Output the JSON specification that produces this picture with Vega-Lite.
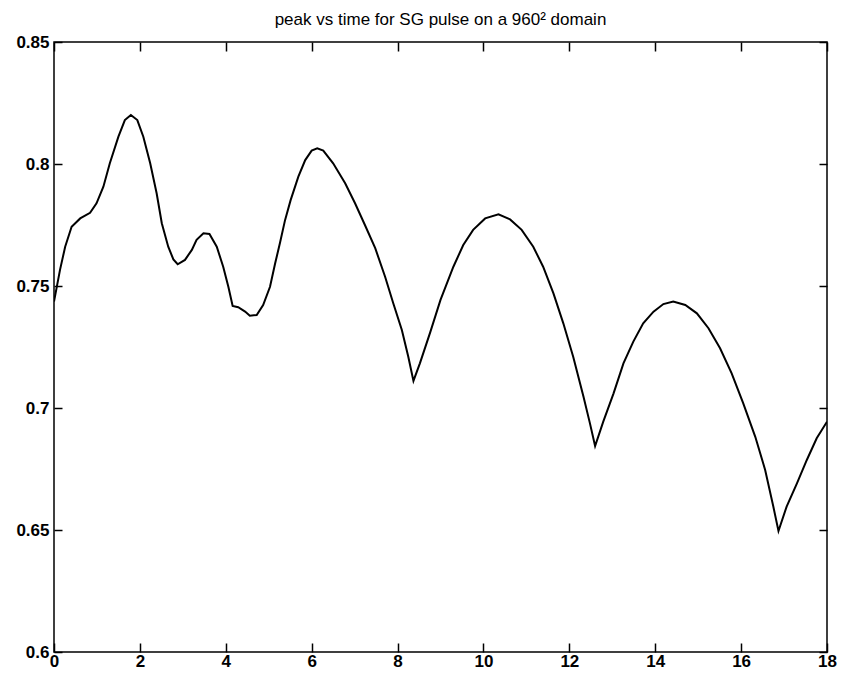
{
  "$schema": "https://vega.github.io/schema/vega-lite/v6.json",
  "width": 773,
  "height": 610,
  "autosize": {"type": "none"},
  "padding": {"left": 54, "top": 42, "right": 16, "bottom": 27},
  "background": "white",
  "title": {
    "text": "peak vs time for SG pulse on a 960² domain",
    "font": "Liberation Sans",
    "fontSize": 17,
    "fontWeight": "normal",
    "color": "black",
    "anchor": "middle",
    "offset": 4
  },
  "config": {
    "view": {"stroke": "black", "strokeWidth": 1.5},
    "axis": {
      "grid": false,
      "domain": false,
      "tickColor": "black",
      "tickWidth": 1.5,
      "labelFont": "Liberation Sans",
      "labelFontSize": 17,
      "labelFontWeight": "bold",
      "labelColor": "black",
      "title": null
    }
  },
  "data": {
    "values": [
      {"t": 0.0, "peak": 0.7436},
      {"t": 0.14, "peak": 0.7566},
      {"t": 0.26, "peak": 0.7661},
      {"t": 0.41, "peak": 0.7743},
      {"t": 0.61, "peak": 0.7777},
      {"t": 0.84, "peak": 0.78},
      {"t": 0.99, "peak": 0.7839},
      {"t": 1.15, "peak": 0.7907},
      {"t": 1.3, "peak": 0.8003},
      {"t": 1.5, "peak": 0.8112},
      {"t": 1.65, "peak": 0.818},
      {"t": 1.79, "peak": 0.8201},
      {"t": 1.94, "peak": 0.818},
      {"t": 2.08, "peak": 0.8112},
      {"t": 2.24, "peak": 0.8003},
      {"t": 2.39, "peak": 0.788},
      {"t": 2.51, "peak": 0.7757},
      {"t": 2.66, "peak": 0.7661},
      {"t": 2.78, "peak": 0.7609},
      {"t": 2.88, "peak": 0.7589},
      {"t": 3.05, "peak": 0.7607},
      {"t": 3.21, "peak": 0.7648},
      {"t": 3.32, "peak": 0.7689},
      {"t": 3.48, "peak": 0.7716},
      {"t": 3.62, "peak": 0.7713},
      {"t": 3.79, "peak": 0.7661},
      {"t": 3.94, "peak": 0.7579},
      {"t": 4.06, "peak": 0.7497},
      {"t": 4.16, "peak": 0.7418},
      {"t": 4.29, "peak": 0.7413},
      {"t": 4.45, "peak": 0.7395},
      {"t": 4.56, "peak": 0.7378},
      {"t": 4.72, "peak": 0.7381},
      {"t": 4.87, "peak": 0.7422},
      {"t": 5.03, "peak": 0.7497},
      {"t": 5.15, "peak": 0.7593},
      {"t": 5.26, "peak": 0.7675},
      {"t": 5.38, "peak": 0.777},
      {"t": 5.51, "peak": 0.7852},
      {"t": 5.69, "peak": 0.7948},
      {"t": 5.85, "peak": 0.8016},
      {"t": 6.0, "peak": 0.8055},
      {"t": 6.13, "peak": 0.8064},
      {"t": 6.27, "peak": 0.8055},
      {"t": 6.5, "peak": 0.8003},
      {"t": 6.78, "peak": 0.7921},
      {"t": 7.01, "peak": 0.7839},
      {"t": 7.24, "peak": 0.775},
      {"t": 7.48, "peak": 0.7655},
      {"t": 7.71, "peak": 0.7538},
      {"t": 7.9, "peak": 0.7429},
      {"t": 8.1, "peak": 0.732},
      {"t": 8.25, "peak": 0.721},
      {"t": 8.37, "peak": 0.7111},
      {"t": 8.52, "peak": 0.7183},
      {"t": 8.76, "peak": 0.731},
      {"t": 9.0, "peak": 0.7443},
      {"t": 9.3, "peak": 0.7579},
      {"t": 9.53, "peak": 0.7668},
      {"t": 9.76, "peak": 0.773},
      {"t": 10.04, "peak": 0.7777},
      {"t": 10.35, "peak": 0.7794},
      {"t": 10.62, "peak": 0.7773},
      {"t": 10.89, "peak": 0.773},
      {"t": 11.16, "peak": 0.7661},
      {"t": 11.39, "peak": 0.7579},
      {"t": 11.63, "peak": 0.747},
      {"t": 11.86, "peak": 0.7347},
      {"t": 12.09, "peak": 0.721},
      {"t": 12.33, "peak": 0.7046},
      {"t": 12.48, "peak": 0.6937},
      {"t": 12.6, "peak": 0.6844},
      {"t": 12.79, "peak": 0.6944},
      {"t": 13.03, "peak": 0.706},
      {"t": 13.26, "peak": 0.7183},
      {"t": 13.49, "peak": 0.7272},
      {"t": 13.72, "peak": 0.7347},
      {"t": 13.96, "peak": 0.7395},
      {"t": 14.19, "peak": 0.7426},
      {"t": 14.42, "peak": 0.7436},
      {"t": 14.7, "peak": 0.7422},
      {"t": 14.97, "peak": 0.7388},
      {"t": 15.24, "peak": 0.7327},
      {"t": 15.51, "peak": 0.7245},
      {"t": 15.78, "peak": 0.7142},
      {"t": 16.05, "peak": 0.7019},
      {"t": 16.33, "peak": 0.6882},
      {"t": 16.56, "peak": 0.6746},
      {"t": 16.75, "peak": 0.6596},
      {"t": 16.87, "peak": 0.6496},
      {"t": 17.06, "peak": 0.6596},
      {"t": 17.3, "peak": 0.6691},
      {"t": 17.53, "peak": 0.6787},
      {"t": 17.76, "peak": 0.6876},
      {"t": 18.0, "peak": 0.6944}
    ]
  },
  "layer": [
    {
      "mark": {"type": "line", "color": "black", "strokeWidth": 2, "clip": true},
      "encoding": {
        "x": {
          "field": "t", "type": "quantitative",
          "scale": {"domain": [0, 18], "nice": false, "zero": false},
          "axis": {"orient": "bottom", "offset": -9, "values": [0, 2, 4, 6, 8, 10, 12, 14, 16, 18], "tickSize": 9, "labelPadding": 1, "labelFlush": false, "labelOverlap": false}
        },
        "y": {
          "field": "peak", "type": "quantitative",
          "scale": {"domain": [0.6, 0.85], "nice": false, "zero": false},
          "axis": {"orient": "left", "offset": -8, "values": [0.6, 0.65, 0.7, 0.75, 0.8, 0.85], "format": ".2~f", "tickSize": 8, "labelPadding": 5, "labelFlush": false, "labelOverlap": false}
        }
      }
    },
    {
      "mark": {"type": "line", "strokeOpacity": 0},
      "encoding": {
        "x": {
          "field": "t", "type": "quantitative",
          "axis": {"orient": "top", "offset": -9, "values": [0, 2, 4, 6, 8, 10, 12, 14, 16, 18], "tickSize": 9, "labels": false}
        },
        "y": {
          "field": "peak", "type": "quantitative",
          "axis": {"orient": "right", "offset": -8, "values": [0.6, 0.65, 0.7, 0.75, 0.8, 0.85], "tickSize": 8, "labels": false}
        }
      }
    }
  ],
  "resolve": {"axis": {"x": "independent", "y": "independent"}}
}
